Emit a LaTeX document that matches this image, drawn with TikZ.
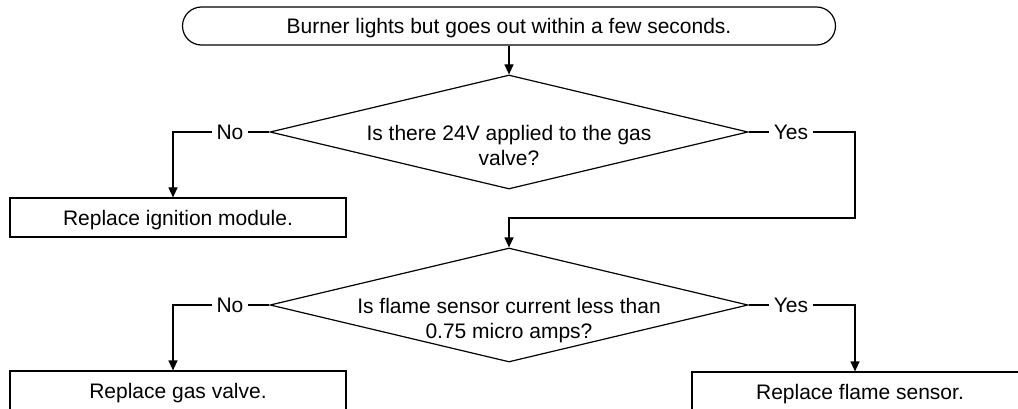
\documentclass[tikz,border=0pt]{standalone}
\usepackage{fontspec}
\setmainfont{Liberation Sans}
\usetikzlibrary{arrows.meta, positioning, shapes.geometric}

\begin{document}
\begin{tikzpicture}[x=1pt, y=-1pt, line width=1.2pt,
    every node/.style={font=\fontsize{21}{25}\selectfont},
    terminal/.style={draw, rounded corners=19pt, minimum width=653pt, minimum height=38pt, inner sep=0pt, text depth=0pt},
    decision/.style={draw, diamond, minimum width=478pt, minimum height=114pt, inner sep=0pt},
    qtext/.style={align=center, anchor=north, inner sep=0pt},
    action/.style={draw, minimum width=336pt, minimum height=39pt, inner sep=0pt, text depth=0pt},
    answer/.style={inner sep=4pt},
    flow/.style={-{Triangle[length=10pt, width=9pt]}}]
    \useasboundingbox (0,0) rectangle (1018,409);

    % Start
    \node[terminal] (start) at (509,26) {Burner lights but goes out within a few seconds.};

    % First question
    \node[decision] (q1) at (509,132) {};
    \node[qtext] (q1t) at ([yshift=7.5pt]q1.center) {Is there 24V applied to the gas\\valve?};
    \node[answer] (no1) at (230,132) {No};
    \node[answer] (yes1) at (791,132) {Yes};
    \node[action] (r1) at (178,217.5) {Replace ignition module.};
    \coordinate (j1) at (855,218);

    % Second question
    \node[decision] (q2) at (509,305) {};
    \node[qtext] (q2t) at ([yshift=7.5pt]q2.center) {Is flame sensor current less than\\0.75 micro amps?};
    \node[answer] (no2) at (230,305) {No};
    \node[answer] (yes2) at (791,305) {Yes};
    \node[action] (r2) at (178,390.5) {Replace gas valve.};
    \node[action] (r3) at (860,391.5) {Replace flame sensor.};

    % Connectors
    \draw[flow] (start) -- (q1);
    \draw (q1.west) -- (no1.east);
    \draw[flow] (no1.west) -| ([xshift=-5pt]r1.north);
    \draw (q1.east) -- (yes1.west);
    \draw[flow] (yes1.east) -| (j1) -| (q2.north);
    \draw (q2.west) -- (no2.east);
    \draw[flow] (no2.west) -| ([xshift=-5pt]r2.north);
    \draw (q2.east) -- (yes2.west);
    \draw[flow] (yes2.east) -| ([xshift=-5pt]r3.north);
\end{tikzpicture}
\end{document}
